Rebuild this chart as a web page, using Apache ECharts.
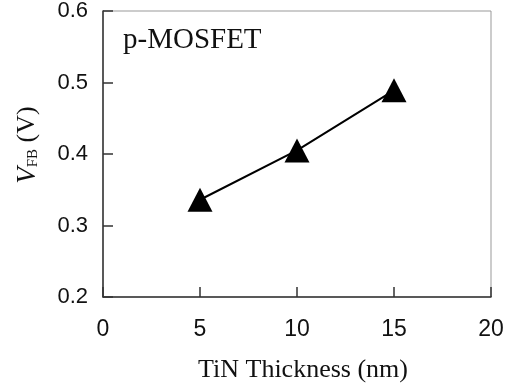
<!DOCTYPE html>
<html>
<head>
<meta charset="utf-8">
<script src="https://cdn.jsdelivr.net/npm/echarts@6/dist/echarts.min.js"></script>
<style>
html,body{margin:0;padding:0;background:#fff;}
#chart{width:515px;height:388px;}
</style>
</head>
<body>
<div id="chart"></div>
<script>
var thickness = [5, 10, 15];
var vfb = [0.336, 0.405, 0.489];
var xTicks = [0, 5, 10, 15, 20];
var yTicks = [0.2, 0.3, 0.4, 0.5, 0.6];
var panelLabel = 'p-MOSFET';
var xTitle = 'TiN Thickness (nm)';

var chart = echarts.init(document.getElementById('chart'));
var serif = '"Liberation Serif", "DejaVu Serif", serif';
var sans = '"Liberation Sans", Arial, sans-serif';

chart.setOption({
  backgroundColor: '#fff',
  animation: false,
  grid: {left: 103, right: 24, top: 10, bottom: 90, show: true, borderColor: '#999', borderWidth: 1},
  xAxis: {
    type: 'value', min: xTicks[0], max: xTicks[xTicks.length - 1], interval: 5,
    name: xTitle, nameLocation: 'middle', nameGap: 60,
    nameTextStyle: {fontFamily: serif, fontSize: 26, color: '#111', padding: [0, 0, 0, 12]},
    axisLine: {show: true, lineStyle: {color: '#333', width: 1.5}},
    axisTick: {show: true, inside: true, length: 10, lineStyle: {color: '#333', width: 1.5}},
    axisLabel: {fontFamily: sans, fontSize: 23, color: '#111', margin: 21},
    splitLine: {show: false}
  },
  yAxis: {
    type: 'value', min: yTicks[0], max: yTicks[yTicks.length - 1], interval: 0.1,
    name: '{v|V}{sub|FB}{n| (V)}', nameLocation: 'middle', nameGap: 62, nameRotate: 90,
    nameTextStyle: {
      padding: [0, 0, 0, 18],
      rich: {
        v: {fontFamily: serif, fontStyle: 'italic', fontSize: 27, color: '#111'},
        sub: {fontFamily: serif, fontSize: 15, color: '#111', padding: [12, 0, 0, 0]},
        n: {fontFamily: serif, fontSize: 26, color: '#111'}
      }
    },
    axisLine: {show: true, lineStyle: {color: '#333', width: 1.5}},
    axisTick: {show: true, inside: true, length: 10, lineStyle: {color: '#333', width: 1.5}},
    axisLabel: {fontFamily: sans, fontSize: 22, color: '#111', margin: 15,
      formatter: function (v) { return v.toFixed(1); }},
    splitLine: {show: false}
  },
  graphic: [{
    type: 'text', left: 123, top: 26,
    style: {text: panelLabel, font: '29px ' + serif, fill: '#111'}
  }],
  series: [{
    type: 'line',
    data: thickness.map(function (x, i) { return [x, vfb[i]]; }),
    symbol: 'triangle', symbolSize: [25, 24],
    itemStyle: {color: '#000'},
    lineStyle: {color: '#000', width: 2}
  }]
});
</script>
</body>
</html>
